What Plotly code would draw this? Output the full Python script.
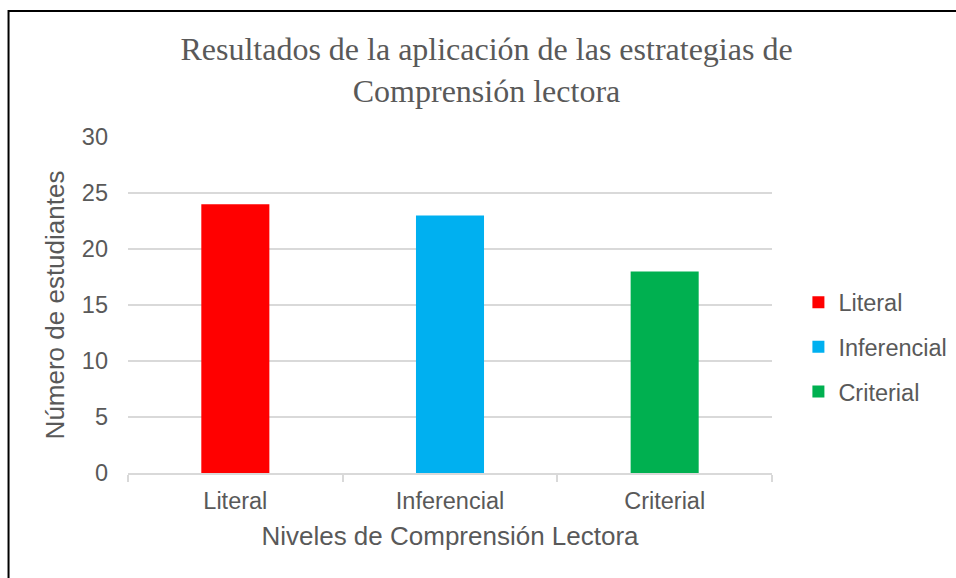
import plotly.graph_objects as go

categories = ["Literal", "Inferencial", "Criterial"]
values = [24, 23, 18]
colors = ["#FF0000", "#00B0F0", "#00B050"]
y_ticks = [0, 5, 10, 15, 20, 25, 30]

TXT = "#595959"
GRID = "#D9D9D9"

fig = go.Figure()
for i, (c, v, col) in enumerate(zip(categories, values, colors)):
    fig.add_trace(go.Bar(x=[c], y=[v], name=c, marker=dict(color=col, line=dict(width=0)),
                         legendgroup=f"g{i}"))

W, H = 956, 578
L, R, T, B = 127.5, 184.3, 137, 105

fig.update_layout(
    width=W, height=H,
    margin=dict(l=L, r=R, t=T, b=B, autoexpand=False),
    paper_bgcolor="white", plot_bgcolor="white",
    barmode="overlay", bargap=0.683,
    title=dict(text="Resultados de la aplicación de las estrategias de<br>Comprensión lectora",
               font=dict(family="Liberation Serif", size=32, color=TXT),
               x=486.5 / W, xref="container", xanchor="center",
               y=1 - 60 / H, yref="container", yanchor="middle"),
    font=dict(family="Liberation Sans", color=TXT),
    legend=dict(font=dict(size=23.5, color=TXT), x=1.041, xanchor="left", y=0.375, yanchor="middle",
                tracegroupgap=11, itemwidth=30, bgcolor="rgba(0,0,0,0)"),
    shapes=[
        dict(type="rect", xref="paper", yref="paper",
             x0=(8 - L) / (W - L - R), x1=(1000 - L) / (W - L - R),
             y0=-(700 - H + B) / (H - T - B), y1=(H - B - 11) / (H - T - B),
             line=dict(color="black", width=2), fillcolor="rgba(0,0,0,0)", layer="below"),
    ],
)

fig.update_yaxes(range=[0, 30], tickvals=y_ticks, showgrid=True, gridcolor=GRID, gridwidth=1.5,
                 zeroline=False, showline=False, ticks="", ticklabelstandoff=19,
                 tickfont=dict(size=23.5, color=TXT),
                 title=dict(text="Número de estudiantes", font=dict(size=26, color=TXT), standoff=9))
fig.update_xaxes(showgrid=False, showline=True, linecolor=GRID, linewidth=1.5,
                 ticks="outside", tickson="boundaries", ticklen=7, tickcolor=GRID, tickwidth=1.5,
                 tickfont=dict(size=23.5, color=TXT), ticklabelstandoff=6,
                 title=dict(text="Niveles de Comprensión Lectora", font=dict(size=26, color=TXT), standoff=14))

fig.write_html("out.html", config={"displayModeBar": False},
               post_script="document.body.style.margin='0';")
